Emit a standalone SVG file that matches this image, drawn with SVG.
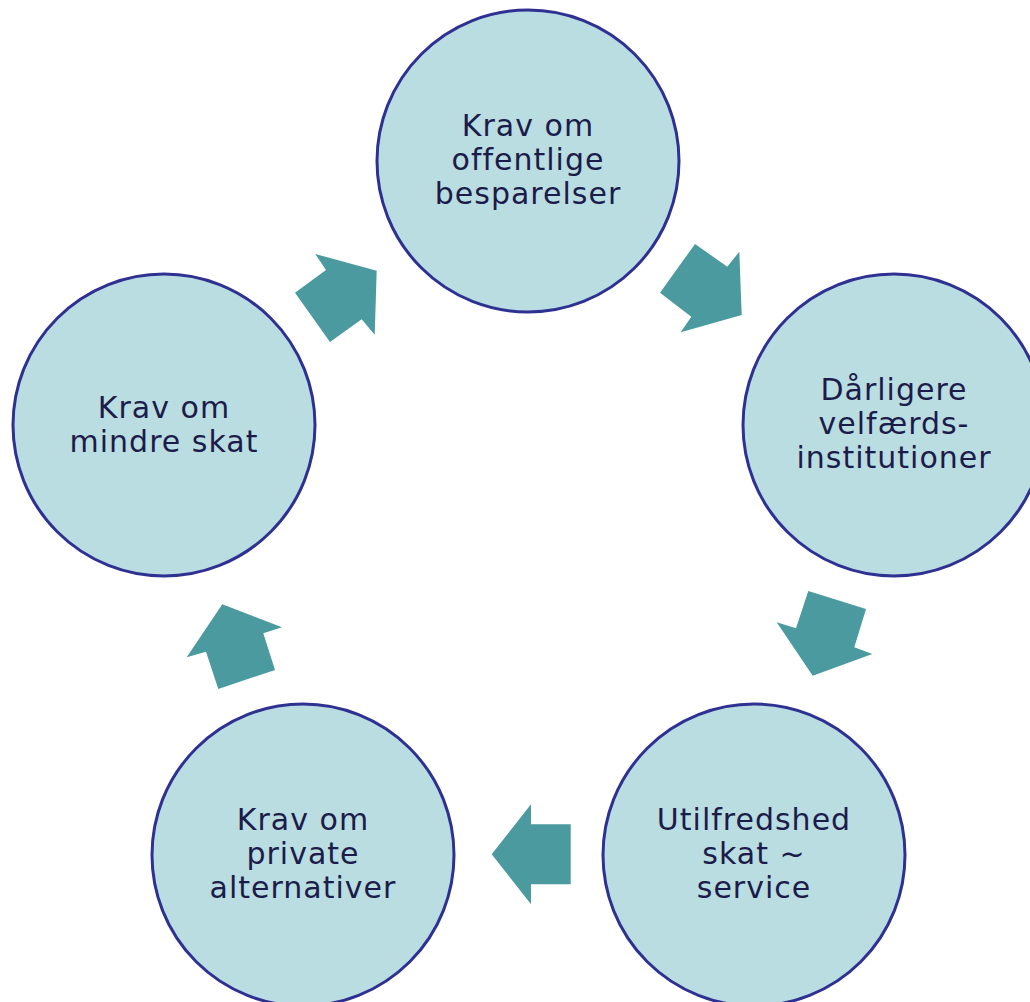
<svg xmlns="http://www.w3.org/2000/svg" width="1030" height="1002" viewBox="0 0 1030 1002">
<style>
.n circle{fill:#b9dde1;stroke:#2e3192;stroke-width:3}
.n text{font-family:"DejaVu Sans",Verdana,sans-serif;font-size:30px;letter-spacing:1px;fill:#1c1c4a;text-anchor:middle}
.c polygon{fill:#4a9aa0}
</style>
<rect width="1030" height="1002" fill="#fff"/>
<g class="c" id="connectors">
<polygon points="315.3,254 376.7,270.7 374.7,334.7 361.7,319.3 330,342 295,292.7 326,270"/>
<polygon points="695,244 727.3,266.7 739.3,251.7 741.7,315 680.7,332.3 691.3,316.7 660,292.7"/>
<polygon points="808.3,591 866,609 854.3,647.3 872.3,654 812.7,675.7 776.7,622.3 796,628.3"/>
<polygon points="531,804.3 531,824.3 570.7,824.3 570.7,884.3 531,884.3 531,904.3 491.7,854.3"/>
<polygon points="222.3,604.3 282,627.3 263.3,633.3 275,670 218.3,689 206,651.7 186.7,657.3"/>
</g>
<g class="n" id="n1"><circle cx="528" cy="161" r="151"/>
<text x="528" y="136">Krav om</text><text x="528" y="170">offentlige</text><text x="528" y="204">besparelser</text></g>
<g class="n" id="n2"><circle cx="894" cy="425" r="151"/>
<text x="894" y="400">Dårligere</text><text x="894" y="434">velfærds-</text><text x="894" y="468">institutioner</text></g>
<g class="n" id="n3"><circle cx="754" cy="855" r="151"/>
<text x="754" y="830">Utilfredshed</text><text x="754" y="864">skat ~</text><text x="754" y="898">service</text></g>
<g class="n" id="n4"><circle cx="303" cy="855" r="151"/>
<text x="303" y="830">Krav om</text><text x="303" y="864">private</text><text x="303" y="898">alternativer</text></g>
<g class="n" id="n5"><circle cx="164" cy="425" r="151"/>
<text x="164" y="418">Krav om</text><text x="164" y="452">mindre skat</text></g>
</svg>
